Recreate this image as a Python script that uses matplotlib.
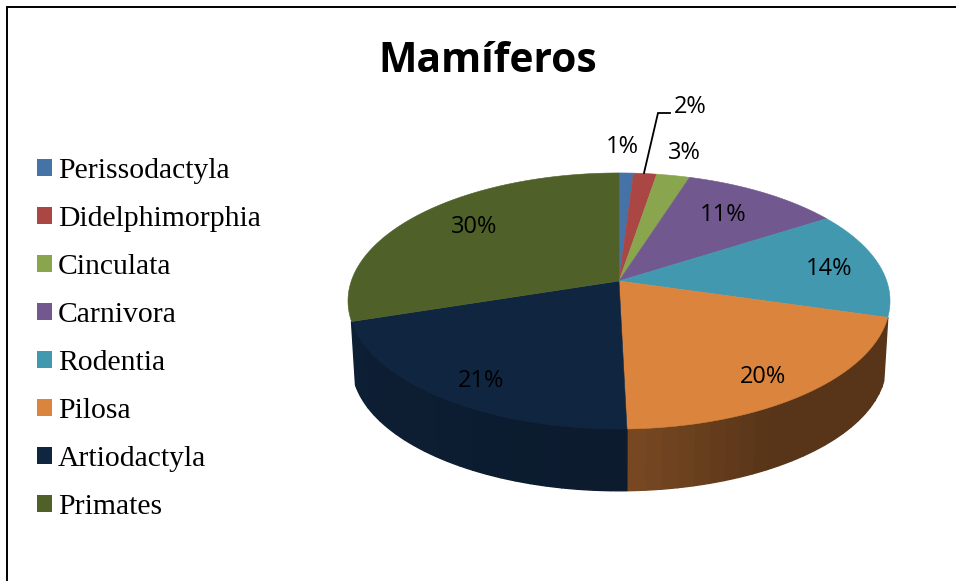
import numpy as np
import matplotlib
matplotlib.use("Agg")
import matplotlib.pyplot as plt
from matplotlib.patches import Patch

title = "Mamíferos"
categories = ["Perissodactyla", "Didelphimorphia", "Cinculata", "Carnivora",
              "Rodentia", "Pilosa", "Artiodactyla", "Primates"]
shares = [1.0, 1.6, 2.3, 11.0, 13.6, 20.1, 20.4, 30.0]
percent_labels = ["1%", "2%", "3%", "11%", "14%", "20%", "21%", "30%"]
colors = ["#4572A7", "#AA4643", "#89A54E", "#71588F",
          "#4198AF", "#DB843D", "#10253F", "#4F6128"]
label_xy = [(622, 147), (690, 107), (684, 153), (723, 215),
            (829, 269), (763, 377), (481, 381), (474, 227)]

W, H = 956, 581
fig = plt.figure(figsize=(W / 100, H / 100), dpi=100, facecolor="white")
ax = fig.add_axes([0, 0, 1, 1])
ax.set_xlim(0, W)
ax.set_ylim(H, 0)
ax.axis("off")

# perspective projection of a tilted disc
CX, CY, A, B, K = 619.0, 281.0, 267.7, 124.9, 0.156
DEPTH, SHRINK = 64.0, 0.985


def project(theta_deg, lower=False):
    t = np.radians(theta_deg)
    x, y = np.sin(t), np.cos(t)
    w = 1 + K * y
    px, py = A * x / w, -B * y / w
    if lower:
        return CX + SHRINK * px, CY + SHRINK * py + DEPTH
    return CX + px, CY + py


def shade(hex_color, f):
    rgb = np.array(matplotlib.colors.to_rgb(hex_color))
    return tuple(np.clip(rgb * f, 0, 1))


edges = np.concatenate([[0], np.cumsum(shares)]) / np.sum(shares) * 360

# side wall, drawn in wide overlapping strips; only the two front wedges show one
for i, col in enumerate(colors):
    if col not in ("#DB843D", "#10253F"):
        continue
    a0, a1 = edges[i], edges[i + 1]
    ths = np.arange(a0, a1 + 0.01, 3.0)
    if ths[-1] < a1:
        ths = np.append(ths, a1)
    for s, e in zip(ths[:-1], ths[1:]):
        mid = (s + e) / 2
        if col == "#DB843D":
            span = (a1 - mid) / (a1 - a0)
            f = 0.40 + 0.15 * max(0, 1 - span / 0.38)
        else:
            f = 0.72 + 0.12 * (mid - a0) / (a1 - a0)
        c = shade(col, f)
        t = np.linspace(s, e, 8)
        xt, yt = project(t)
        xb, yb = project(t, True)
        ax.fill(np.r_[xt, xb[::-1]], np.r_[yt, yb[::-1]], color=c, lw=1.0,
                ec=c, zorder=2)

# top face
for i, col in enumerate(colors):
    ths = np.linspace(edges[i], edges[i + 1], 80)
    xs, ys = project(ths)
    ax.fill(np.r_[CX, xs], np.r_[CY, ys], color=col, lw=0.4, ec=col, zorder=3)

# data labels
for lab, (x, y) in zip(percent_labels, label_xy):
    ax.text(x, y, lab, ha="center", va="center", fontsize=17,
            family="Open Sans", color="black", zorder=5)
ax.plot([644, 658, 670], [173, 113, 113], color="black", lw=1.3, zorder=4,
        solid_joinstyle="miter")

ax.text(488, 62, title, ha="center", va="center", fontsize=29.3,
        family="Open Sans", fontweight="bold", color="black")

# chart frame: only left and top edges are in the crop
ax.plot([7.5, 7.5, W], [H, 6.5, 6.5], color="black", lw=1.4,
        solid_joinstyle="miter", zorder=6)

fs = 21.3
fpx = fs * 100 / 72
handles = [Patch(facecolor=c, edgecolor="none") for c in colors]
ax.legend(handles, categories, loc="upper left", bbox_to_anchor=(37 / W, 1 - 158 / H),
          bbox_transform=fig.transFigure, borderaxespad=0, borderpad=0, frameon=False,
          prop={"family": "Liberation Serif", "size": fs},
          handlelength=15 / fpx, handleheight=15 / fpx,
          handletextpad=6 / fpx, labelspacing=(50.1 - fpx * 0.95) / fpx)

fig.savefig("out.png", dpi=100)
